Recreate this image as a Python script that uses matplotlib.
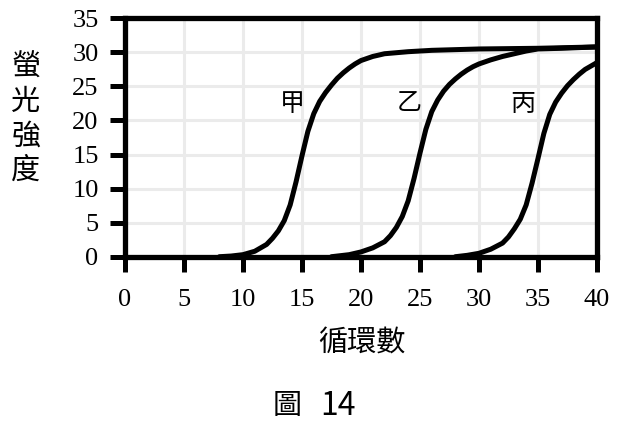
import matplotlib
matplotlib.use("Agg")
import matplotlib.pyplot as plt

# values (cycle number, fluorescence)
cycles_jia = [8, 9, 10, 11, 12, 12.5, 13, 13.5, 14, 14.5, 15, 15.5, 16, 16.5,
              17, 17.5, 18, 18.5, 19, 19.5, 20, 21, 22, 24, 26, 30, 35, 40]
signal_jia = [0, 0.1, 0.3, 0.8, 1.8, 2.7, 3.8, 5.3, 7.6, 11.0, 14.8, 18.4, 21.0,
              22.8, 24.1, 25.2, 26.2, 27.0, 27.7, 28.3, 28.8, 29.4, 29.8, 30.1,
              30.3, 30.5, 30.6, 30.8]

cycles_yi = [17.5, 19, 20, 21, 22, 22.5, 23, 23.5, 24, 24.5, 25, 25.5, 26, 26.5,
             27, 27.5, 28, 28.5, 29, 29.5, 30, 31, 32, 33, 34, 35, 37, 40]
signal_yi = [0, 0.3, 0.7, 1.3, 2.2, 3.1, 4.3, 5.9, 8.2, 11.5, 15.2, 18.7, 21.3,
             23.0, 24.3, 25.3, 26.1, 26.8, 27.4, 27.9, 28.3, 28.9, 29.4, 29.8,
             30.2, 30.5, 30.6, 30.8]

cycles_bing = [28, 29, 30, 31, 32, 32.5, 33, 33.5, 34, 34.5, 35, 35.5, 36, 36.5,
               37, 37.5, 38, 38.5, 39, 39.5, 40]
signal_bing = [0, 0.2, 0.5, 1.1, 2.0, 2.9, 4.1, 5.5, 7.6, 10.8, 14.4, 18.1, 20.9,
               22.7, 24.0, 25.1, 26.0, 26.8, 27.5, 28.0, 28.5]

curve_names = ["甲", "乙", "丙"]
name_x = [14.2, 24.05, 33.7]
name_y = [22.4, 22.6, 22.4]

x_ticks = [0, 5, 10, 15, 20, 25, 30, 35, 40]
y_ticks = [0, 5, 10, 15, 20, 25, 30, 35]

cjk = ["Noto Sans CJK TC", "DejaVu Sans"]
serif = ["Liberation Serif", "DejaVu Serif"]

fig = plt.figure(figsize=(6.23, 4.30), dpi=100)
ax = fig.add_axes([0.2006, 0.403, 0.7576, 0.5544])

for xs, ys in [(cycles_jia, signal_jia), (cycles_yi, signal_yi),
               (cycles_bing, signal_bing)]:
    ax.plot(xs, ys, color="black", lw=3.6, solid_capstyle="round",
            solid_joinstyle="round", zorder=3)

for name, tx, ty in zip(curve_names, name_x, name_y):
    ax.text(tx, ty, name, family=cjk, fontsize=18,
            ha="center", va="center", color="black")

ax.set_xlim(0, 40)
ax.set_ylim(0, 35)
ax.set_xticks(x_ticks)
ax.set_yticks(y_ticks)
ax.grid(True, color="#ebebeb", lw=2.2, zorder=0)
ax.set_axisbelow(True)

for sp in ax.spines.values():
    sp.set_linewidth(3.8)
    sp.set_zorder(4)

ax.tick_params(axis="both", direction="out", length=11, width=3.6,
               labelsize=19, color="black")
ax.tick_params(axis="x", pad=12)
ax.tick_params(axis="y", pad=8)
for lab in ax.get_xticklabels() + ax.get_yticklabels():
    lab.set_family(serif)

# vertical y label, one character per line
for i, ch in enumerate("螢光強度"):
    fig.text(26 / 623, 1 - (67.5 + 34.5 * i) / 430, ch, family=cjk,
             fontsize=21, ha="center", va="center")

fig.text(362 / 623, 1 - 344 / 430, "循環數", family=cjk,
         fontsize=21, ha="center", va="center")
fig.text(287 / 623, 1 - 406 / 430, "圖", family=cjk,
         fontsize=21, ha="center", va="center")
fig.text(338 / 623, 1 - 406 / 430, "14", family=cjk,
         fontsize=23, ha="center", va="center")

fig.savefig("out.png", dpi=100)
